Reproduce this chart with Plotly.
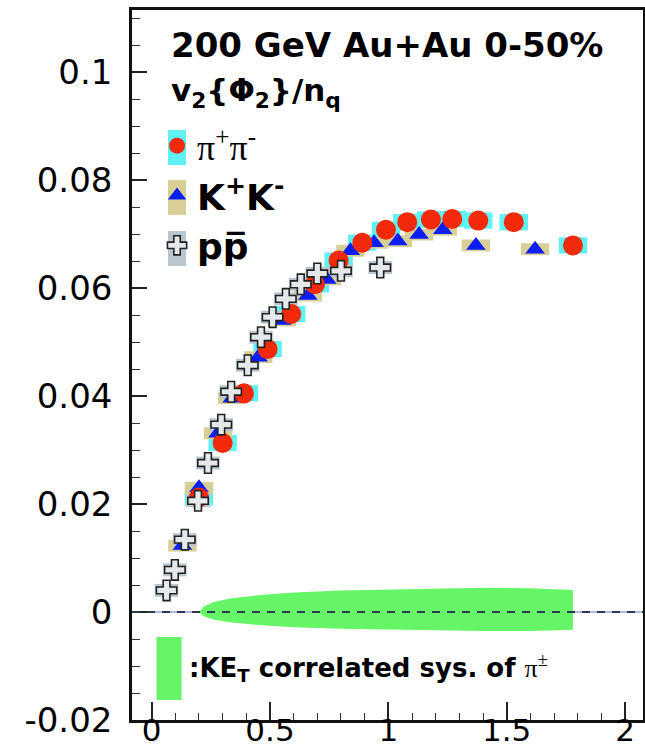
import plotly.graph_objects as go

# ---------------- data ----------------
pi_x = [0.20, 0.30, 0.39, 0.49, 0.59, 0.69, 0.79, 0.89, 0.99, 1.08, 1.18, 1.27, 1.38, 1.53, 1.78]
pi_y = [0.0212, 0.0313, 0.0405, 0.0487, 0.0552, 0.0607, 0.0651, 0.0684, 0.0708, 0.0722, 0.0727, 0.0728, 0.0725, 0.0722, 0.0679]
pi_sys = [0.0015] * len(pi_x)

k_x = [0.13, 0.20, 0.28, 0.34, 0.45, 0.55, 0.66, 0.74, 0.84, 0.94, 1.04, 1.13, 1.23, 1.37, 1.62]
k_y = [0.0123, 0.0230, 0.0331, 0.0396, 0.0472, 0.0540, 0.0586, 0.0616, 0.0669, 0.0684, 0.0687, 0.0699, 0.0708, 0.0679, 0.0672]
k_sys = [0.0011] * len(k_x)

p_x = [0.063, 0.098, 0.14, 0.196, 0.238, 0.294, 0.336, 0.406, 0.462, 0.511, 0.567, 0.63, 0.70, 0.80, 0.966]
p_y = [0.0040, 0.0078, 0.0134, 0.0206, 0.0276, 0.0347, 0.0408, 0.0457, 0.0509, 0.0546, 0.0580, 0.0607, 0.0627, 0.0632, 0.0638]
p_sys = [0.0012] * len(p_x)

band_x = [0.20, 0.22, 0.26, 0.33, 0.45, 0.60, 0.80, 1.00, 1.20, 1.40, 1.60, 1.78]
band_hi = [0.0, 0.0010, 0.0018, 0.0025, 0.0031, 0.0036, 0.0040, 0.0042, 0.0044, 0.0045, 0.0044, 0.0041]
band_lo = [0.0, -0.0008, -0.0014, -0.0019, -0.0024, -0.0028, -0.0031, -0.0033, -0.0034, -0.0035, -0.0035, -0.0033]

x_tickvals = [0, 0.5, 1, 1.5, 2]
x_ticktext = ["0", "0.5", "1", "1.5", "2"]
y_tickvals = [-0.02, 0, 0.02, 0.04, 0.06, 0.08, 0.1]
y_ticktext = ["-0.02", "0", "0.02", "0.04", "0.06", "0.08", "0.1"]

FONT = "DejaVu Sans"
SERIF = "Liberation Serif"

fig = go.Figure()

# systematic boxes
def sys_boxes(xs, ys, errs, color, width):
    fig.add_trace(go.Bar(
        x=xs, y=[2 * e for e in errs], base=[y - e for y, e in zip(ys, errs)],
        width=width, marker=dict(color=color, line=dict(width=0)),
        showlegend=False, hoverinfo="skip"))

sys_boxes(pi_x, pi_y, pi_sys, "#5ff2f2", 0.12)
sys_boxes(k_x, k_y, k_sys, "#d8cf96", 0.12)
sys_boxes(p_x, p_y, p_sys, "#b9c6cf", 0.10)

# correlated systematic band
fig.add_trace(go.Scatter(
    x=band_x + band_x[::-1], y=band_hi + band_lo[::-1],
    fill="toself", fillcolor="#66f566", line=dict(width=0),
    mode="lines", showlegend=False, hoverinfo="skip"))

# markers
fig.add_trace(go.Scatter(
    x=k_x, y=k_y, mode="markers", name="<b>K<sup>+</sup>K<sup>-</sup></b>",
    legendrank=2,
    marker=dict(symbol="triangle-up", size=17, color="#0a1ef5", line=dict(width=0))))
fig.add_trace(go.Scatter(
    x=pi_x, y=pi_y, mode="markers",
    name=f"<span style='font-family:{SERIF}'>π<sup>+</sup>π<sup>-</sup></span>",
    legendrank=1,
    marker=dict(symbol="circle", size=20, color="#f22a0a", line=dict(width=0))))
fig.add_trace(go.Scatter(
    x=p_x, y=p_y, mode="markers", name="<b>pp\u0305</b>",
    legendrank=3,
    marker=dict(symbol="cross", size=17, color="#e4e8ea", line=dict(width=1.6, color="#222222"))))

shapes = [
    # light solid zero line under the band
    dict(type="line", xref="paper", yref="y", x0=0, x1=1, y0=0, y1=0,
         line=dict(color="#b4b8e0", width=2), layer="below"),
    # dashed zero line on top
    dict(type="line", xref="paper", yref="y", x0=0, x1=1, y0=0, y1=0,
         line=dict(color="#2e3a50", width=2, dash="8px,7px"), layer="above"),
    # legend boxes
    dict(type="rect", xref="paper", yref="paper", x0=0.0705, x1=0.1057, y0=0.7817, y1=0.831,
         fillcolor="#5ff2f2", line=dict(width=0), layer="above"),
    dict(type="rect", xref="paper", yref="paper", x0=0.0705, x1=0.1057, y0=0.7113, y1=0.7606,
         fillcolor="#d8cf96", line=dict(width=0), layer="above"),
    dict(type="rect", xref="paper", yref="paper", x0=0.0705, x1=0.1057, y0=0.6394, y1=0.6887,
         fillcolor="#b9c6cf", line=dict(width=0), layer="above"),
    # bottom legend green box
    dict(type="rect", xref="paper", yref="paper", x0=0.048, x1=0.097, y0=0.028, y1=0.117,
         fillcolor="#66f566", line=dict(width=0), layer="above"),
]

annotations = [
    dict(text="<b>200 GeV Au+Au 0-50%</b>", xref="paper", yref="paper", x=0.072, y=0.951,
         xanchor="left", yanchor="middle", showarrow=False,
         font=dict(family=FONT, size=34, color="black")),
    dict(text="<b>v<sub>2</sub>{Φ<sub>2</sub>}/n<sub>q</sub></b>", xref="paper", yref="paper",
         x=0.072, y=0.884, xanchor="left", yanchor="middle", showarrow=False,
         font=dict(family=FONT, size=31, color="black")),
    dict(text=f"<b>:KE<sub>T</sub> correlated sys. of </b><span style='font-family:{SERIF}'>π<sup>±</sup></span>",
         xref="paper", yref="paper", x=0.108, y=0.073, xanchor="left", yanchor="middle",
         showarrow=False, font=dict(family=FONT, size=26, color="black")),
]

fig.update_layout(
    width=645, height=754,
    margin=dict(l=132, r=2, t=10, b=34, autoexpand=False),
    paper_bgcolor="white", plot_bgcolor="white",
    barmode="overlay",
    showlegend=True,
    legend=dict(x=0.049, y=0.851, xanchor="left", yanchor="top",
                bgcolor="rgba(0,0,0,0)", borderwidth=0,
                font=dict(family=FONT, size=36, color="black"),
                itemsizing="trace", tracegroupgap=0),
    shapes=shapes, annotations=annotations,
    font=dict(family=FONT, color="black"),
)

fig.update_xaxes(
    range=[-0.083, 2.076], tickvals=x_tickvals, ticktext=x_ticktext,
    showgrid=False, zeroline=False, showline=True, linecolor="#111111", linewidth=2.5,
    mirror=True, ticks="inside", ticklen=18, tickwidth=1.5, tickcolor="#222222",
    minor=dict(dtick=0.1, tick0=0, ticks="inside", ticklen=7, tickwidth=1.2, tickcolor="#333333"),
    tickfont=dict(family=FONT, size=31, color="black"), ticklabelstandoff=-19,
)
fig.update_yaxes(
    range=[-0.02, 0.1115], tickvals=y_tickvals, ticktext=y_ticktext,
    showgrid=False, zeroline=False, showline=True, linecolor="#111111", linewidth=2.5,
    mirror=True, ticks="inside", ticklen=15, tickwidth=1.5, tickcolor="#222222",
    minor=dict(dtick=0.005, tick0=0, ticks="inside", ticklen=8, tickwidth=1.2, tickcolor="#333333"),
    tickfont=dict(family=FONT, size=34, color="black"), ticklabelstandoff=10,
)

fig.write_html("out.html")
